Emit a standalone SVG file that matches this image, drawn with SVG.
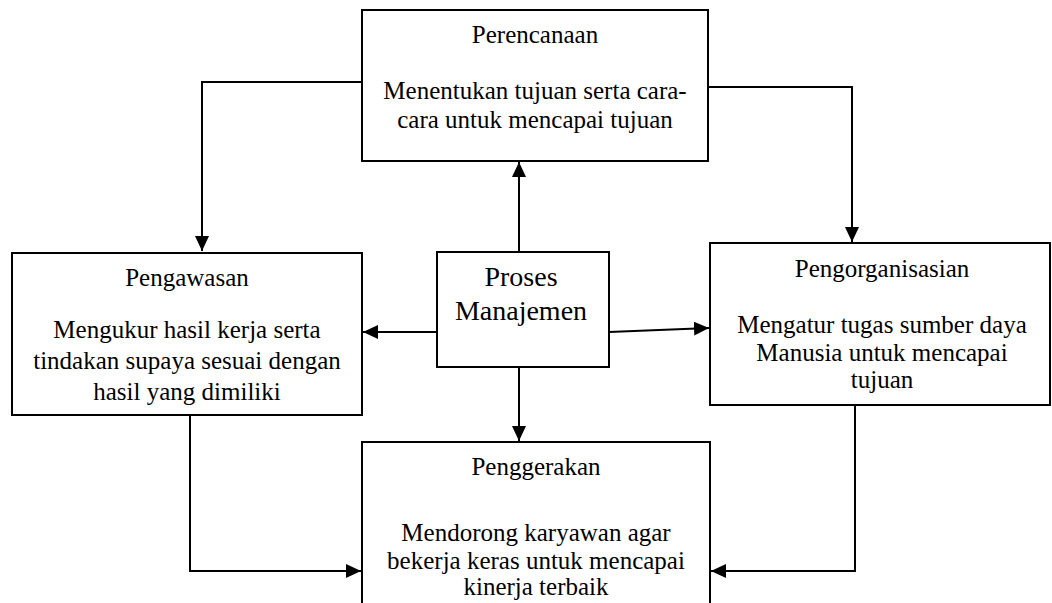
<svg xmlns="http://www.w3.org/2000/svg" width="1052" height="603" viewBox="0 0 1052 603">
<style>
.box{fill:#fff;stroke:#000;stroke-width:2}
.t{font-family:"Liberation Serif","Times New Roman",serif;font-size:25px;fill:#000;text-anchor:middle}
.big{font-size:28px}
.c{fill:none;stroke:#000;stroke-width:2}
</style>
<defs>
<marker id="ah" markerUnits="userSpaceOnUse" markerWidth="16" markerHeight="14" refX="15" refY="7" orient="auto">
<path d="M0,0 L15,7 L0,14 z" fill="#000"/>
</marker>
</defs>
<rect width="1052" height="603" fill="#fff"/>
<g id="connectors">
<path class="c" d="M362,82 H202 V251" marker-end="url(#ah)"/>
<path class="c" d="M708,87 H852 V242" marker-end="url(#ah)"/>
<path class="c" d="M519,252 V162" marker-end="url(#ah)"/>
<path class="c" d="M437,332 H363" marker-end="url(#ah)"/>
<path class="c" d="M609,332 L709,328" marker-end="url(#ah)"/>
<path class="c" d="M519,367 V441" marker-end="url(#ah)"/>
<path class="c" d="M190,415 V571 H361" marker-end="url(#ah)"/>
<path class="c" d="M855,405 V571 H711" marker-end="url(#ah)"/>
</g>
<g id="perencanaan">
<rect class="box" x="362" y="10" width="346" height="151"/>
<text class="t" x="535" y="43">Perencanaan</text>
<text class="t" x="535" y="99">Menentukan tujuan serta cara-</text>
<text class="t" x="535" y="128">cara untuk mencapai tujuan</text>
</g>
<g id="pengawasan">
<rect class="box" x="12" y="253" width="350" height="162"/>
<text class="t" x="187" y="286">Pengawasan</text>
<text class="t" x="187" y="338">Mengukur hasil kerja serta</text>
<text class="t" x="187" y="369">tindakan supaya sesuai dengan</text>
<text class="t" x="187" y="400">hasil yang dimiliki</text>
</g>
<g id="proses">
<rect class="box" x="437" y="252" width="172" height="115"/>
<text class="t big" x="521" y="286">Proses</text>
<text class="t big" x="521" y="320">Manajemen</text>
</g>
<g id="pengorganisasian">
<rect class="box" x="710" y="243" width="340" height="162"/>
<text class="t" x="882" y="277">Pengorganisasian</text>
<text class="t" x="882" y="333">Mengatur tugas sumber daya</text>
<text class="t" x="882" y="361">Manusia untuk mencapai</text>
<text class="t" x="882" y="388">tujuan</text>
</g>
<g id="penggerakan">
<rect class="box" x="362" y="442" width="348" height="175"/>
<text class="t" x="536" y="475">Penggerakan</text>
<text class="t" x="536" y="541">Mendorong karyawan agar</text>
<text class="t" x="536" y="569">bekerja keras untuk mencapai</text>
<text class="t" x="536" y="595">kinerja terbaik</text>
</g>
</svg>
